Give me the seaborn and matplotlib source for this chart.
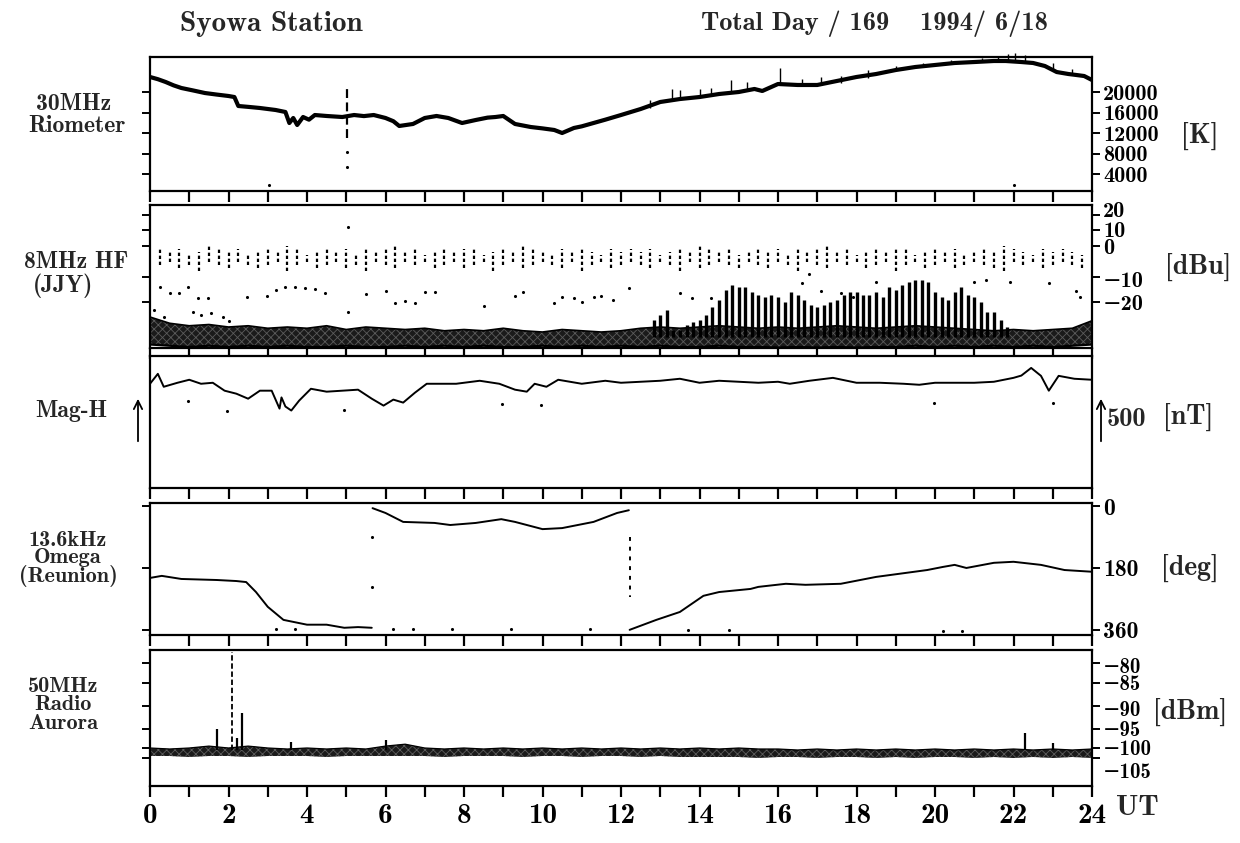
import numpy as np
import matplotlib
matplotlib.use("Agg")
import matplotlib.pyplot as plt
import matplotlib.transforms as mtrans
import seaborn as sns

# ---------------- data ----------------
hours_ticks = list(range(25))
x_labels = ["0", "", "2", "", "4", "", "6", "", "8", "", "10", "", "12", "", "14", "",
            "16", "", "18", "", "20", "", "22", "", "24"]

# 30 MHz riometer [K]
rio_t = [0.0, 0.2, 0.4, 0.6, 0.8, 1.1, 1.4, 1.7, 2.0, 2.15, 2.25, 2.5, 2.8, 3.2, 3.45, 3.55,
         3.65, 3.75, 3.9, 4.05, 4.2, 4.5, 4.9, 5.2, 5.45, 5.7, 6.0, 6.2, 6.35, 6.7, 7.0, 7.3,
         7.6, 7.95, 8.3, 8.6, 8.8, 9.0, 9.3, 9.7, 10.0, 10.3, 10.5, 10.8, 11.0, 11.3, 11.6,
         12.0, 12.5, 13.0, 13.5, 14.0, 14.5, 15.0, 15.4, 15.6, 16.0, 16.5, 17.0, 17.5, 18.0,
         18.5, 19.0, 19.5, 20.0, 20.5, 21.0, 21.5, 21.8, 22.2, 22.5, 22.8, 23.1, 23.4, 23.6,
         23.8, 24.0]
rio_k = [22930, 22500, 21950, 21300, 20780, 20300, 19800, 19500, 19220, 19020, 17270, 17100,
         16880, 16490, 16100, 13950, 14930, 13560, 15120, 14600, 15510, 15320, 15120, 15510,
         15300, 15510, 14930, 14300, 13370, 13760, 14930, 15320, 14930, 13950, 14540, 15000,
         15120, 15320, 13760, 13170, 12900, 12590, 12000, 12980, 13300, 13950, 14600, 15510,
         16680, 18050, 18630, 19020, 19610, 20000, 20590, 20200, 21560, 21370, 21370, 22150,
         22930, 23510, 24290, 24880, 25270, 25660, 25850, 26050, 26050, 25850, 25660, 25070,
         23900, 23510, 23320, 23120, 22340]
rio_spike_t = [12.75, 13.3, 13.5, 14.0, 14.3, 14.8, 15.2, 16.05, 16.6, 17.1, 17.6, 18.3,
               19.0, 19.7, 20.4, 21.2, 21.6, 21.85, 22.05, 22.3, 23.0, 23.5]
rio_spike_base = [16800, 18300, 18700, 19000, 19300, 19900, 20200, 21600, 21400, 21400, 21800,
                  22800, 24300, 25000, 25700, 25900, 26000, 26050, 26000, 25800, 24500, 23400]
rio_spike_top = [18500, 20500, 20300, 20600, 20800, 22300, 22000, 24700, 22500, 23000, 23200,
                 24200, 25000, 25600, 26200, 26600, 26800, 27500, 27700, 27200, 25600, 24500]
rio_gap_t = [5.02]
rio_gap_top = [20800]
rio_gap_bot = [11000]
rio_dot_t = [5.02, 5.02, 3.03, 22.0]
rio_dot_k = [8300, 5400, 1860, 1860]
rio_ticks = [4000, 8000, 12000, 16000, 20000]

# 8 MHz HF (JJY) [dBu]
hf_ticks = [-20, -10, 0, 10, 20]
hf_noise_t = [0.0, 0.5, 1.0, 1.5, 2.0, 2.5, 3.0, 3.5, 4.0, 4.5, 5.0, 5.5, 6.0, 6.5, 7.0, 7.5,
              8.0, 8.5, 9.0, 9.5, 10.0, 10.5, 11.0, 11.5, 12.0, 12.5, 13.0, 13.5, 14.0, 14.5,
              15.0, 15.5, 16.0, 16.5, 17.0, 17.5, 18.0, 18.5, 19.0, 19.5, 20.0, 20.5, 21.0,
              21.5, 22.0, 22.5, 23.0, 23.5, 24.0]
hf_noise_hi = [-26.0, -28.5, -29.5, -29.0, -30.0, -29.5, -30.5, -30.0, -30.5, -29.5, -31.0,
               -30.0, -30.5, -31.0, -30.5, -31.5, -31.0, -31.5, -30.5, -31.5, -32.0, -31.0,
               -31.5, -32.0, -31.5, -30.5, -30.0, -30.5, -30.0, -29.5, -30.0, -30.5, -30.0,
               -30.5, -30.0, -29.5, -30.0, -30.5, -30.0, -29.5, -30.0, -30.5, -31.0, -31.5,
               -31.0, -31.5, -31.0, -30.5, -27.5]
hf_noise_lo = [-37.0, -37.5, -38.0, -37.5, -38.0, -37.5, -38.0, -37.5, -38.0, -38.0, -37.5,
               -38.0, -38.0, -37.5, -38.0, -37.5, -38.0, -37.5, -38.0, -38.0, -37.5, -38.0,
               -37.5, -38.0, -37.5, -38.0, -37.5, -38.0, -38.0, -37.5, -38.0, -38.0, -38.2,
               -38.0, -38.2, -38.0, -38.2, -38.0, -38.0, -37.5, -38.0, -37.5, -38.0, -37.5,
               -38.0, -37.5, -38.0, -37.5, -37.0]
hf_dash_t = [0.25, 0.5, 0.75, 1.0, 1.25, 1.5, 1.75, 2.0, 2.25, 2.5, 2.75, 3.0, 3.25, 3.5,
             3.75, 4.0, 4.25, 4.5, 4.75, 5.0, 5.25, 5.5, 5.75, 6.0, 6.25, 6.5, 6.75, 7.0,
             7.25, 7.5, 7.75, 8.0, 8.25, 8.5, 8.75, 9.0, 9.25, 9.5, 9.75, 10.0, 10.25, 10.5,
             10.75, 11.0, 11.25, 11.5, 11.75, 12.0, 12.25, 12.5, 12.75, 13.0, 13.25, 13.5,
             13.75, 14.0, 14.25, 14.5, 14.75, 15.0, 15.25, 15.5, 15.75, 16.0, 16.25, 16.5,
             16.75, 17.0, 17.25, 17.5, 17.75, 18.0, 18.25, 18.5, 18.75, 19.0, 19.25, 19.5,
             19.75, 20.0, 20.25, 20.5, 20.75, 21.0, 21.25, 21.5, 21.75, 22.0, 22.25, 22.5,
             22.75, 23.0, 23.25, 23.5, 23.75]
hf_dash_top = [-1, -2, -1, -3, -2, 0, -1, -2, -1, -3,
               -2, -1, -2, 0, -1, -3, -2, -1, -2, -1,
               -3, -1, -2, -1, 0, -2, -1, -3, -2, -1,
               -2, -1, -1, -3, -2, -1, -2, 0, -1, -2,
               -3, -1, -2, -1, -2, -3, -1, -2, -1, -2,
               -1, -3, -2, -1, -2, 0, -1, -2, -1, -3,
               -2, -1, -2, -1, -3, -1, -2, -1, 0, -2,
               -1, -3, -2, -1, -2, -1, -1, -3, -2, -1,
               -2, -1, -3, -2, -1, -2, 0, -1, -2, -3,
               -1, -2, -1, -2, -3]
hf_dash_bot = [-6, -5, -7, -6, -8, -5, -6, -7, -5, -6,
               -7, -6, -5, -8, -6, -5, -7, -6, -5, -7,
               -6, -8, -5, -6, -7, -5, -6, -5, -7, -6,
               -5, -7, -6, -5, -8, -6, -5, -7, -6, -5,
               -6, -7, -5, -8, -6, -5, -7, -6, -5, -6,
               -7, -5, -6, -8, -5, -7, -6, -5, -6, -7,
               -5, -6, -7, -5, -6, -8, -5, -6, -7, -5,
               -6, -5, -7, -6, -5, -8, -6, -5, -7, -6,
               -5, -7, -6, -5, -6, -7, -8, -5, -6, -5,
               -7, -6, -5, -6, -7]
hf_spike_t = [12.83, 13.0, 13.17, 13.33, 13.5, 13.67, 13.83, 14.0, 14.17, 14.33, 14.5, 14.67,
              14.83, 15.0, 15.17, 15.33, 15.5, 15.67, 15.83, 16.0, 16.17, 16.33, 16.5, 16.67,
              16.83, 17.0, 17.17, 17.33, 17.5, 17.67, 17.83, 18.0, 18.17, 18.33, 18.5, 18.67,
              18.83, 19.0, 19.17, 19.33, 19.5, 19.67, 19.83, 20.0, 20.17, 20.33, 20.5, 20.67,
              20.83, 21.0, 21.17, 21.33, 21.5, 21.67, 21.83]
hf_spike_top = [-27, -25, -23, -31, -31, -29, -28, -27, -25, -22, -19, -15, -13, -14, -14,
                -16, -17, -18, -17, -18, -20, -16, -17, -19, -21, -22, -21, -20, -19, -17,
                -16, -16, -17, -17, -16, -18, -14, -15, -13, -12, -11, -11, -12, -16, -18,
                -19, -16, -14, -17, -18, -20, -24, -24, -27, -30]
hf_dot_t = [0.1, 0.25, 0.35, 0.5, 0.75, 0.96, 1.1, 1.22, 1.3, 1.47, 1.55, 1.85, 2.0, 2.47,
            2.97, 3.2, 3.45, 3.7, 3.95, 4.2, 4.45, 5.05, 5.05, 5.5, 6.0, 6.25, 6.5, 6.75, 7.0,
            7.25, 8.5, 9.3, 9.5, 10.3, 10.5, 10.8, 11.0, 11.3, 11.5, 11.8, 12.2, 13.5, 13.8,
            14.3, 16.6, 16.8, 17.1, 17.6, 17.9, 18.5, 21.0, 21.3, 21.9, 22.9, 23.6, 23.7]
hf_dot_v = [-23, -14, -26, -16.4, -16.4, -14, -24, -18.4, -25, -18.4, -24.5, -26, -27.5,
            -18, -17.6, -15, -14, -14, -14.5, -14.7, -16.4, 12, -24, -16.8, -15.5, -20.4,
            -19.5, -20.5, -16, -16, -21.6, -17.6, -16, -20.5, -18, -18.5, -20, -18, -17.5,
            -19, -14.5, -16.5, -18.5, -18.5, -12.5, -9, -15.5, -16.5, -18, -12, -12, -11,
            -12, -12.5, -15.5, -18]

# Mag-H [nT, relative]
mag_t = [0.0, 0.2, 0.35, 0.7, 1.0, 1.3, 1.6, 1.9, 2.2, 2.5, 2.8, 3.1, 3.3, 3.35, 3.45, 3.6,
         3.8, 4.1, 4.5, 4.9, 5.3, 5.65, 5.95, 6.2, 6.45, 6.75, 7.05, 7.8, 8.4, 8.9, 9.3, 9.6,
         9.8, 10.1, 10.4, 11.0, 11.6, 12.0, 12.5, 13.0, 13.5, 14.0, 14.5, 15.0, 15.5, 16.0,
         16.3, 16.8, 17.4, 18.0, 18.6, 19.2, 19.6, 20.0, 20.5, 21.0, 21.5, 22.0, 22.2, 22.45,
         22.7, 22.9, 23.15, 23.55, 24.0]
mag_nt = [0, 109, -33, 11, 44, 0, 11, -76, -109, -164, -76, -76, -273, -150, -250, -294,
          -185, -55, -87, -76, -65, -164, -240, -174, -207, -98, 0, 0, 33, 0, -65, -87, 0,
          -33, 44, 0, 33, 11, 22, 33, 55, 11, 33, 22, 11, 22, 0, 33, 65, 11, 11, 0, -11, 11,
          11, 11, 22, 65, 90, 174, 87, -76, 87, 55, 44]
mag_dot_t = [0.97, 1.96, 4.94, 8.97, 9.96, 19.97, 23.0]
mag_dot_nt = [-185, -294, -283, -218, -229, -207, -207]

# 13.6 kHz Omega (Reunion) phase [deg]
om_a_t = [0.0, 0.3, 0.8, 1.7, 2.2, 2.45, 2.7, 3.0, 3.4, 4.0, 4.5, 4.95, 5.3, 5.65]
om_a_deg = [209, 203, 212, 215, 218, 221, 250, 293, 331, 345, 345, 354, 352, 354]
om_b_t = [5.67, 6.0, 6.45, 7.25, 7.65, 8.3, 8.95, 9.3, 10.0, 10.5, 11.3, 11.9, 12.2]
om_b_deg = [6, 20, 46, 49, 55, 49, 38, 46, 67, 64, 46, 20, 12]
om_c_t = [12.22, 12.9, 13.5, 14.1, 14.5, 15.3, 15.5, 16.2, 16.7, 17.6, 18.5, 19.8, 20.2,
          20.5, 20.8, 21.5, 22.0, 22.7, 23.3, 24.0]
om_c_deg = [360, 331, 308, 261, 250, 241, 235, 226, 229, 226, 206, 186, 177, 171, 180, 165,
            162, 171, 186, 191]
om_dot_t = [3.2, 3.7, 6.2, 6.7, 7.7, 9.2, 11.2, 13.7, 14.75, 20.2, 20.7, 5.66, 5.66]
om_dot_deg = [358, 358, 358, 358, 358, 358, 358, 360, 360, 362, 362, 90, 235]
om_gap_t = [12.23]
om_gap_top = [90]
om_gap_bot = [264]
om_ticks = [0, 180, 360]

# 50 MHz radio aurora [dBm]
aur_ticks = [-105, -100, -95, -90, -85, -80]
aur_hi = [-100.0, -100.5, -100.0, -99.5, -100.0, -99.5, -100.0, -100.5, -100.0, -100.5,
          -100.0, -100.5, -99.5, -99.0, -100.0, -100.5, -100.0, -100.5, -100.0, -100.5,
          -100.0, -100.5, -100.0, -100.5, -100.0, -100.5, -100.0, -100.5, -100.0, -100.5,
          -100.0, -100.5, -100.5, -101.0, -100.5, -101.0, -100.5, -101.0, -100.5, -101.0,
          -100.5, -101.0, -100.5, -101.0, -100.5, -101.0, -100.5, -101.0, -100.5]
aur_lo = [-104.0, -104.0, -104.5, -104.0, -104.0, -104.5, -104.0, -104.0, -104.0, -104.5,
          -104.0, -104.0, -104.0, -104.0, -104.0, -104.5, -104.0, -104.0, -104.0, -104.5,
          -104.0, -104.0, -104.5, -104.0, -104.0, -104.5, -104.0, -104.5, -104.5, -104.5,
          -104.5, -105.0, -104.5, -104.5, -105.0, -104.5, -104.5, -105.0, -104.5, -105.0,
          -104.5, -104.5, -105.0, -104.5, -105.0, -104.5, -105.0, -104.5, -105.0]
aur_spike_t = [1.7, 2.22, 2.35, 3.6, 6.0, 22.3, 23.0]
aur_spike_top = [-95.0, -97.5, -91.5, -98.5, -98.0, -96.0, -98.8]
aur_tall_t = [2.1]
aur_tall_top = [-77.5]

# ---------------- styling ----------------
sns.set_theme(style="ticks")
plt.rcParams["font.family"] = ["cmb10", "DejaVu Serif"]
plt.rcParams["axes.unicode_minus"] = True
plt.rcParams["axes.linewidth"] = 1.6
plt.rcParams["axes.edgecolor"] = "black"
plt.rcParams["xtick.color"] = "black"
plt.rcParams["ytick.color"] = "black"
plt.rcParams["hatch.linewidth"] = 0.6

W, H = 1240, 843
fig = plt.figure(figsize=(W / 100, H / 100), dpi=100)
fig.patch.set_facecolor("white")
YT_SIZE = 16
BAND_FACE = "#1a1a1a"
BAND_HATCH = "#5c5c5c"


def rect(top, bot):
    return [150 / W, 1 - bot / H, 942 / W, (bot - top) / H]


def make_axes(top, bot):
    ax = fig.add_axes(rect(top, bot))
    ax.set_facecolor("white")
    ax.set_xlim(0, 24)
    ax.set_xticks(hours_ticks)
    ax.set_xticklabels([])
    ax.tick_params(axis="x", direction="out", length=8, width=1.6, bottom=True, top=False)
    ax.tick_params(axis="y", direction="out", length=6, width=1.4, left=True, right=True,
                   labelleft=False, labelright=True, labelsize=YT_SIZE, pad=2)
    for s in ax.spines.values():
        s.set_visible(True)
        s.set_linewidth(1.6)
    ax.set_xlabel("")
    ax.set_ylabel("")
    return ax


def interp_scale(vals, pix):
    v = np.asarray(vals, float)
    p = -np.asarray(pix, float)
    fwd = lambda x: np.interp(x, v, p)
    inv = lambda y: np.interp(y, p, v)
    return fwd, inv


def shift_labels(ax, ticks, shifts):
    for tick, val in zip(ax.yaxis.get_major_ticks(), ticks):
        if val in shifts:
            tick.label2.set_transform(tick.label2.get_transform() +
                                      mtrans.ScaledTranslation(0, shifts[val] / 100,
                                                               fig.dpi_scale_trans))


MINUS = "\u2212"


def fmt(v):
    return (MINUS + str(-v)) if v < 0 else str(v)


# ---- panel 1: riometer ----
ax1 = make_axes(57, 191)
sns.lineplot(x=rio_t, y=rio_k, ax=ax1, color="black", linewidth=3.0, estimator=None, sort=False)
ax1.vlines(rio_spike_t, rio_spike_base, rio_spike_top, color="black", lw=1.0, clip_on=False)
ax1.vlines(rio_gap_t, rio_gap_bot, rio_gap_top, color="black", lw=1.6, linestyles=(0, (4, 2)))
sns.scatterplot(x=rio_dot_t, y=rio_dot_k, ax=ax1, color="black", s=5, linewidth=0)
ax1.set_ylim(683, 26830)
ax1.set_yticks(rio_ticks)
ax1.set_yticklabels([str(v) for v in rio_ticks])

# ---- panel 2: HF ----
ax2 = make_axes(205, 348)
hf_f, hf_i = interp_scale([-60, -40, -20, -10, 0, 10, 20, 40],
                          [402, 352, 302, 277, 246, 230, 215, 185])
ax2.set_yscale("function", functions=(hf_f, hf_i))
ax2.fill_between(hf_noise_t, hf_noise_lo, hf_noise_hi, facecolor=BAND_FACE,
                 edgecolor=BAND_HATCH, hatch="xxxx", linewidth=0)
sns.lineplot(x=hf_noise_t, y=hf_noise_hi, ax=ax2, color="black", linewidth=1.2,
             estimator=None, sort=False)
sns.lineplot(x=hf_noise_t, y=hf_noise_lo, ax=ax2, color="black", linewidth=1.6,
             estimator=None, sort=False)
ax2.vlines(hf_spike_t, [-34] * len(hf_spike_t), hf_spike_top, color="black", lw=2.4)
ax2.vlines(hf_dash_t, hf_dash_bot, hf_dash_top, color="black", lw=1.6,
           linestyles=(0, (1.5, 1.2)))
sns.scatterplot(x=hf_dot_t, y=hf_dot_v, ax=ax2, color="black", s=5, linewidth=0)
ax2.set_ylim(-38.4, 26.7)
ax2.set_yticks(hf_ticks)
ax2.set_yticklabels([fmt(v) for v in hf_ticks])
ax2.yaxis.set_minor_locator(matplotlib.ticker.NullLocator())
shift_labels(ax2, hf_ticks, {20: 6, 10: 1, -10: -2})

# ---- panel 3: Mag-H ----
ax3 = make_axes(356, 488)
sns.lineplot(x=mag_t, y=mag_nt, ax=ax3, color="black", linewidth=1.4, estimator=None,
             sort=False)
sns.scatterplot(x=mag_dot_t, y=mag_dot_nt, ax=ax3, color="black", s=5, linewidth=0)
ax3.set_ylim(-1145, 305)
ax3.set_yticks([])

# ---- panel 4: Omega ----
ax4 = make_axes(503, 635)
for tt, dd in [(om_a_t, om_a_deg), (om_b_t, om_b_deg), (om_c_t, om_c_deg)]:
    sns.lineplot(x=tt, y=dd, ax=ax4, color="black", linewidth=1.4, estimator=None, sort=False)
ax4.vlines(om_gap_t, om_gap_top, om_gap_bot, color="black", lw=1.4, linestyles=(0, (2, 3)))
sns.scatterplot(x=om_dot_t, y=om_dot_deg, ax=ax4, color="black", s=5, linewidth=0)
ax4.set_ylim(375, -9)
ax4.set_yticks(om_ticks)
ax4.set_yticklabels([str(v) for v in om_ticks])
ax4.tick_params(axis="y", labelsize=17)

# ---- panel 5: radio aurora ----
ax5 = make_axes(650, 786)
au_f, au_i = interp_scale([-130, -105, -100, -95, -90, -85, -80, -60],
                          [850, 758, 748, 729, 706, 683, 663, 577])
ax5.set_yscale("function", functions=(au_f, au_i))
ax5.fill_between(hf_noise_t, aur_lo, aur_hi, facecolor=BAND_FACE, edgecolor=BAND_HATCH,
                 hatch="xxxx", linewidth=0)
sns.lineplot(x=hf_noise_t, y=aur_hi, ax=ax5, color="black", linewidth=0.9,
             estimator=None, sort=False)
ax5.vlines(aur_spike_t, [-101] * len(aur_spike_t), aur_spike_top, color="black", lw=1.6)
ax5.vlines(aur_tall_t, [-101], aur_tall_top, color="black", lw=1.3, linestyles=(0, (3, 1.5)))
ax5.set_ylim(-112.6, -77)
ax5.set_yticks(aur_ticks)
ax5.set_yticklabels([fmt(v) for v in aur_ticks])
ax5.yaxis.set_minor_locator(matplotlib.ticker.NullLocator())
ax5.tick_params(axis="y", labelsize=15)
ax5.set_xticklabels(x_labels)
ax5.tick_params(axis="x", labelsize=21, pad=4)
shift_labels(ax5, aur_ticks, {-105: -12, -80: -3, -90: -3})

# ---------------- texts ----------------
def ftext(x, y, s, size=17, ha="center", va="center", **kw):
    fig.text(x / W, 1 - y / H, s, fontsize=size, ha=ha, va=va, **kw)


ftext(180, 24, "Syowa Station", size=21, ha="left")
ftext(701, 24, "Total Day / 169", size=19, ha="left")
ftext(1048, 24, "1994/ 6/18", size=19, ha="right")

ftext(74, 104, "30MHz")
ftext(77, 126, "Riometer")
ftext(76, 262, "8MHz HF")
ftext(63, 286, "(JJY)")
ftext(71, 411, "Mag-H")
ftext(68, 559, "13.6kHz\nOmega\n(Reunion)", size=16, linespacing=0.9,
      multialignment="center")
ftext(63, 705, "50MHz\nRadio\nAurora", size=16, linespacing=0.95,
      multialignment="center")

ftext(1200, 136, "[K]", size=20)
ftext(1198, 267, "[dBu]", size=20)
ftext(1126, 419, "500", size=19)
ftext(1188, 417, "[nT]", size=20)
ftext(1190, 568, "[deg]", size=20)
ftext(1190, 712, "[dBm]", size=20)
ftext(1116, 808, "UT", size=21, ha="left")

for xpix in (138, 1101):
    fig.add_artist(matplotlib.patches.FancyArrowPatch(
        (xpix / W, 1 - 444 / H), (xpix / W, 1 - 396 / H), transform=fig.transFigure,
        arrowstyle="->,head_length=6,head_width=3", lw=1.3, color="black",
        mutation_scale=1))

fig.savefig("out.png", dpi=100, facecolor="white")
